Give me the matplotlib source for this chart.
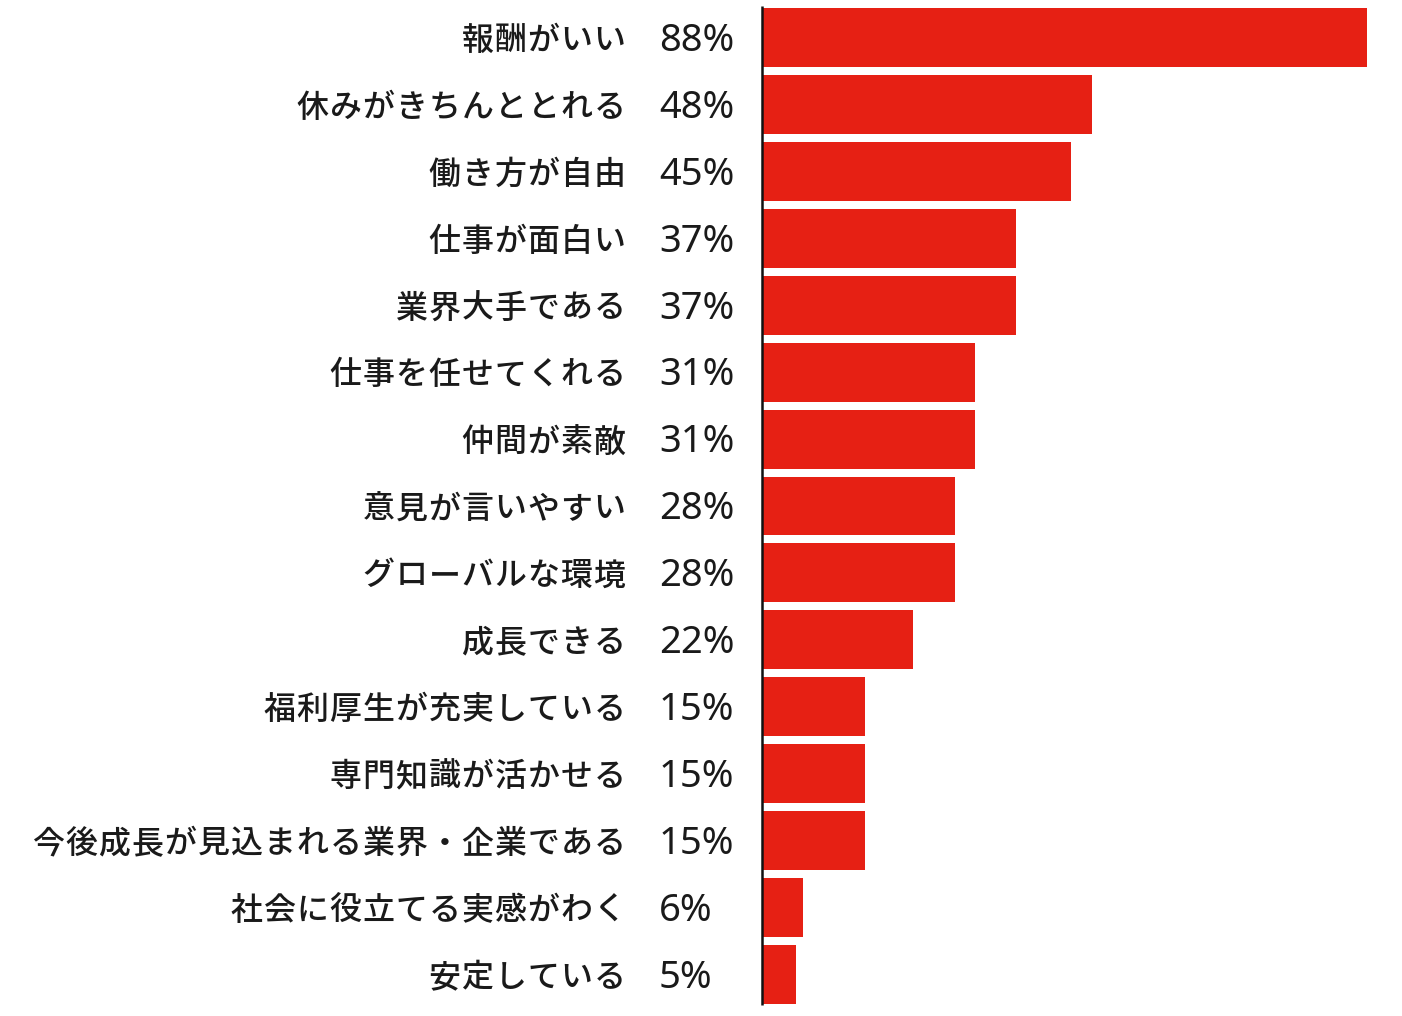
import matplotlib.pyplot as plt
from matplotlib.transforms import blended_transform_factory

plt.rcParams['font.family'] = ['Noto Sans CJK JP', 'DejaVu Sans']

# Data
categories = [
    '報酬がいい', '休みがきちんととれる', '働き方が自由', '仕事が面白い',
    '業界大手である', '仕事を任せてくれる', '仲間が素敵', '意見が言いやすい',
    'グローバルな環境', '成長できる', '福利厚生が充実している', '専門知識が活かせる',
    '今後成長が見込まれる業界・企業である', '社会に役立てる実感がわく', '安定している',
]
values = [88, 48, 45, 37, 37, 31, 31, 28, 28, 22, 15, 15, 15, 6, 5]

W, H = 1402, 1016
fig = plt.figure(figsize=(W / 100, H / 100), dpi=100)
ax = fig.add_axes([762 / W, 1 - 1008 / H, (1367 - 762) / W, (1008 - 4) / H])

y = list(range(len(categories)))
ax.barh(y, values, height=0.88, color='#E62014', edgecolor='none')
ax.set_xlim(0, 88)
ax.set_ylim(len(categories) - 0.5, -0.5)

for s in ['top', 'right', 'bottom', 'left']:
    ax.spines[s].set_visible(False)
ax.set_xticks([])
ax.set_yticks([])
# vertical baseline
ax.plot([0, 0], [-0.47, len(categories) - 0.55], color='#111111', lw=1.8,
        solid_capstyle='butt', clip_on=False)

tr = blended_transform_factory(fig.transFigure, ax.transData)
pitch = 33  # character pitch in pixels
right = 626
for i, (c, v) in enumerate(zip(categories, values)):
    n = len(c)
    for k, ch in enumerate(c):
        xc = right - (n - k - 0.5) * pitch
        ax.text(xc / W, i + 0.05, ch, transform=tr, ha='center', va='center',
                fontsize=23, fontweight='medium', color='#1a1a1a')
    ax.text(659 / W, i + 0.05, f'{v}%', transform=tr, ha='left', va='center',
            fontsize=27.5, family=['Noto Sans', 'DejaVu Sans'],
            color='#1a1a1a')

fig.savefig('out.png', dpi=100, facecolor='white')
